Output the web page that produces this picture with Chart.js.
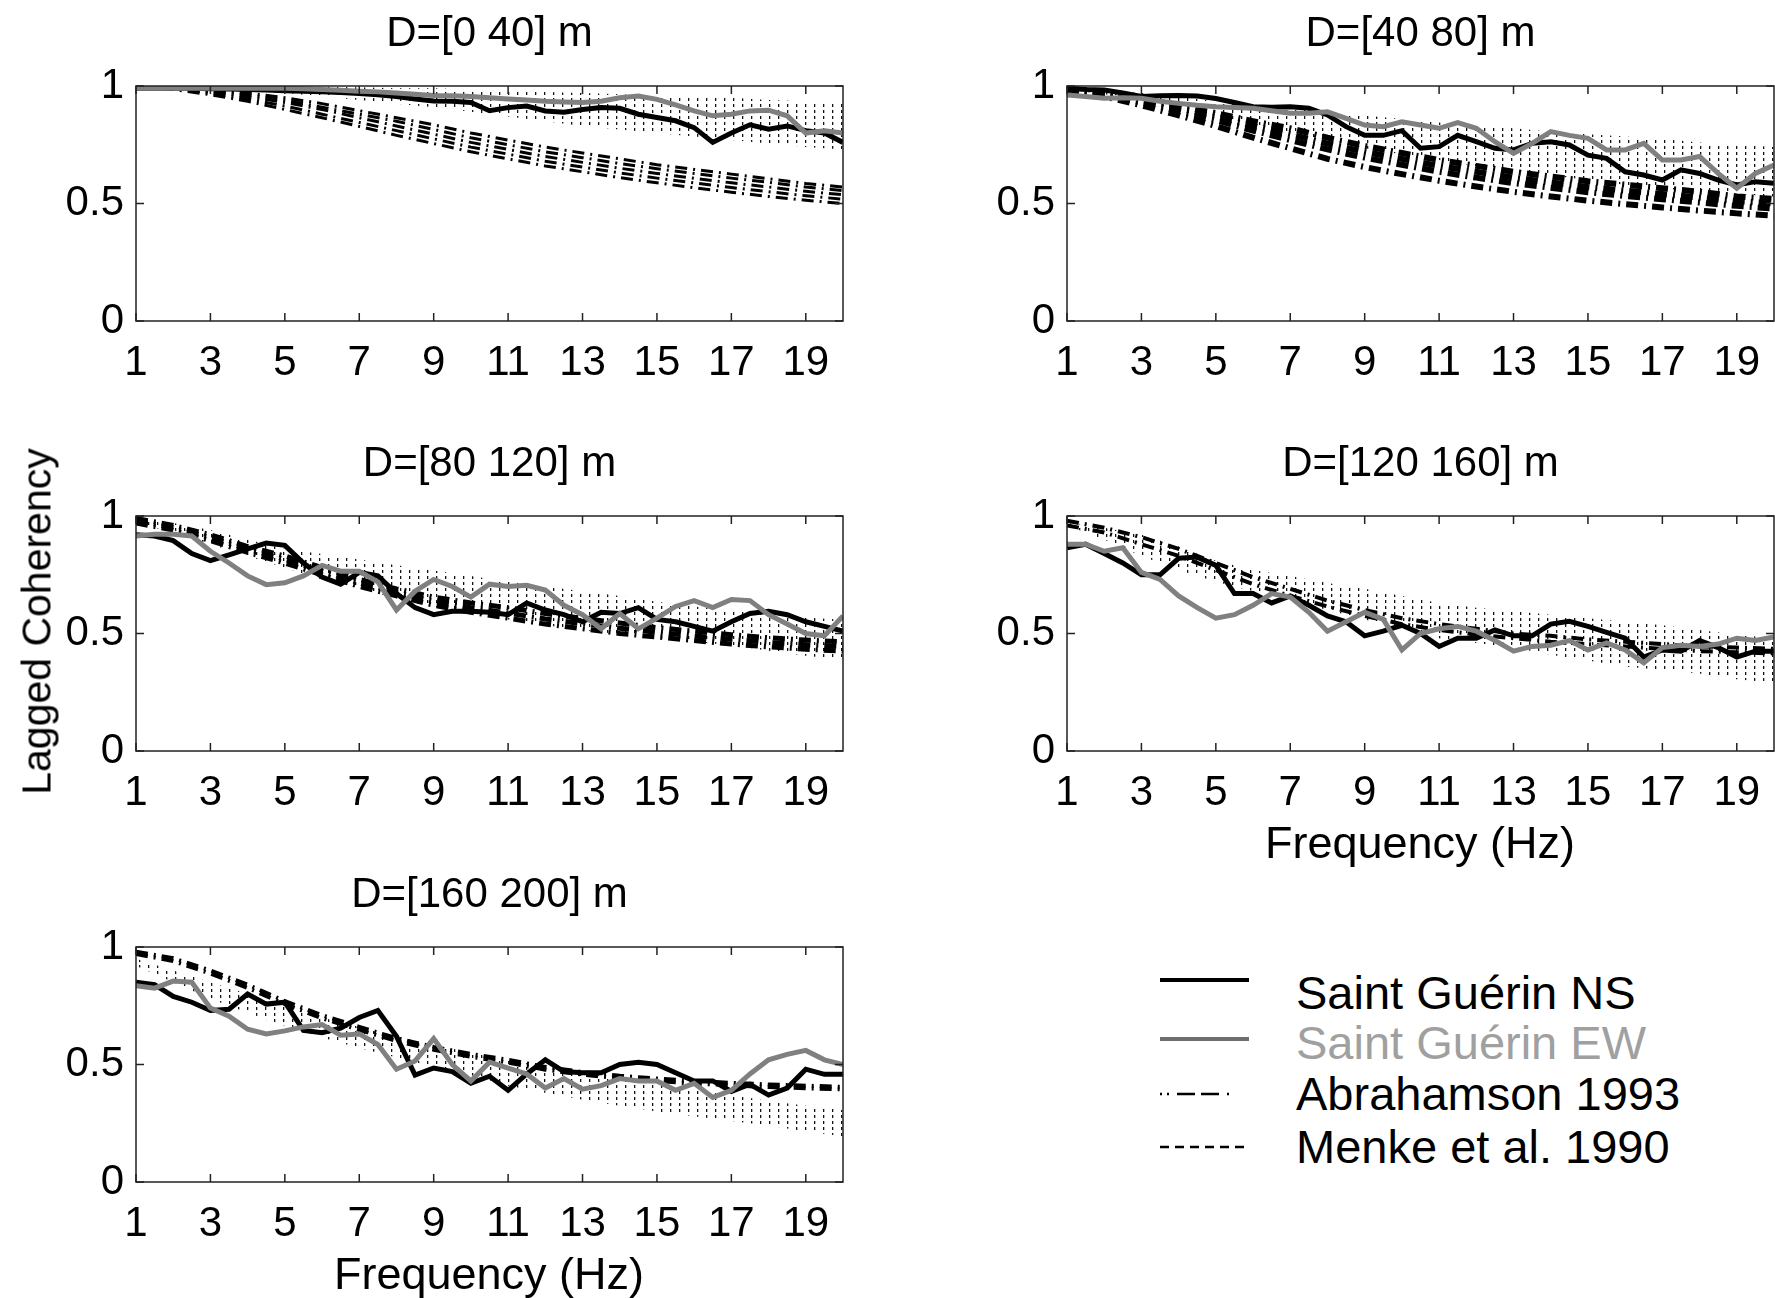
<!DOCTYPE html>
<html>
<head>
<meta charset="utf-8">
<script src="https://cdn.jsdelivr.net/npm/chart.js@4.4.1/dist/chart.umd.min.js"></script>
<style>
  html, body { margin: 0; padding: 0; background: #fff; overflow: hidden; }
  #page { position: relative; width: 1775px; height: 1298px; overflow: hidden; background: #fff; }
  #page canvas { position: absolute; }
  .lbl { position: absolute; width: 700px; text-align: center; font-family: "Liberation Sans", Arial, sans-serif; color: #000; white-space: nowrap; }
  .leg { position: absolute; left: 1160px; font-family: "Liberation Sans", Arial, sans-serif; font-size: 47px; line-height: 47px; white-space: nowrap; }
  .leg svg { position: absolute; left: 0; }
  .leg span { position: absolute; left: 136px; }
</style>
</head>
<body>
<div id="page">
  <canvas id="c1"></canvas>
  <canvas id="c2"></canvas>
  <canvas id="c3"></canvas>
  <canvas id="c4"></canvas>
  <canvas id="c5"></canvas>

  <div class="lbl" style="left:-313px; top:601px; font-size:41px; line-height:41px; transform:rotate(-90deg);">Lagged Coherency</div>
  <div class="lbl" style="left:1070px; top:820px; font-size:45px; line-height:45px;">Frequency (Hz)</div>
  <div class="lbl" style="left:139px; top:1251px; font-size:45px; line-height:45px;">Frequency (Hz)</div>

  <div class="leg" style="top:969px;"><svg width="100" height="47"><line x1="0" y1="11" x2="89" y2="11" stroke="#000" stroke-width="4"/></svg><span style="color:#000">Saint Guérin NS</span></div>
  <div class="leg" style="top:1019px;"><svg width="100" height="47"><line x1="0" y1="20" x2="89" y2="20" stroke="#6e6e6e" stroke-width="4"/></svg><span style="color:#a0a0a0">Saint Guérin EW</span></div>
  <div class="leg" style="top:1070px;"><svg width="100" height="47"><line x1="0" y1="24" x2="89" y2="24" stroke="#000" stroke-width="2.5" stroke-dasharray="2 5 2 8 18 6 18 8 2 20"/></svg><span style="color:#000">Abrahamson 1993</span></div>
  <div class="leg" style="top:1123px;"><svg width="100" height="47"><line x1="0" y1="24" x2="89" y2="24" stroke="#000" stroke-width="2.5" stroke-dasharray="9 6"/></svg><span style="color:#000">Menke et al. 1990</span></div>
</div>

<script>
// frequency axis of the measured curves (0.5 Hz) and of the model curves (1 Hz)
const freq = [1, 1.5, 2, 2.5, 3, 3.5, 4, 4.5, 5, 5.5, 6, 6.5, 7, 7.5, 8, 8.5, 9, 9.5, 10, 10.5,
              11, 11.5, 12, 12.5, 13, 13.5, 14, 14.5, 15, 15.5, 16, 16.5, 17, 17.5, 18, 18.5, 19, 19.5, 20];
const modelFreq = [1, 2, 3, 4, 5, 6, 7, 8, 9, 10, 11, 12, 13, 14, 15, 16, 17, 18, 19, 20];

const xTicks = [1, 3, 5, 7, 9, 11, 13, 15, 17, 19];
const yTicks = [0, 0.5, 1];
const yTickLabels = ['0', '0.5', '1'];

const panelTitles = ['D=[0 40] m', 'D=[40 80] m', 'D=[80 120] m', 'D=[120 160] m', 'D=[160 200] m'];

// Saint Guérin NS
const ns040 = [0.99, 0.99, 0.99, 0.99, 0.988, 0.987, 0.985, 0.983, 0.98, 0.978, 0.975, 0.972, 0.968, 0.963, 0.955, 0.945, 0.936, 0.935, 0.93, 0.895,
               0.908, 0.915, 0.894, 0.888, 0.90, 0.908, 0.905, 0.88, 0.866, 0.852, 0.823, 0.76, 0.80, 0.835, 0.816, 0.83, 0.81, 0.80, 0.76];
const ns4080 = [0.99, 0.985, 0.983, 0.97, 0.955, 0.958, 0.96, 0.957, 0.947, 0.93, 0.912, 0.91, 0.912, 0.905, 0.877, 0.827, 0.79, 0.79, 0.81, 0.735,
                0.742, 0.79, 0.763, 0.735, 0.728, 0.756, 0.763, 0.749, 0.706, 0.692, 0.635, 0.621, 0.60, 0.643, 0.628, 0.60, 0.579, 0.593, 0.586];
const ns80120 = [0.92, 0.915, 0.895, 0.84, 0.81, 0.835, 0.86, 0.885, 0.875, 0.80, 0.74, 0.71, 0.76, 0.745, 0.67, 0.61, 0.58, 0.595, 0.595, 0.59,
                 0.58, 0.63, 0.60, 0.58, 0.55, 0.59, 0.585, 0.61, 0.56, 0.55, 0.53, 0.51, 0.55, 0.585, 0.595, 0.58, 0.55, 0.53, 0.51];
const ns120160 = [0.865, 0.88, 0.84, 0.80, 0.75, 0.75, 0.82, 0.825, 0.79, 0.67, 0.67, 0.63, 0.66, 0.62, 0.575, 0.55, 0.49, 0.51, 0.535, 0.50,
                  0.445, 0.48, 0.48, 0.515, 0.49, 0.49, 0.54, 0.552, 0.53, 0.505, 0.48, 0.40, 0.43, 0.425, 0.47, 0.44, 0.40, 0.425, 0.425];
const ns160200 = [0.85, 0.84, 0.79, 0.765, 0.73, 0.735, 0.80, 0.757, 0.765, 0.645, 0.635, 0.655, 0.70, 0.73, 0.62, 0.455, 0.485, 0.47, 0.42, 0.45,
                  0.39, 0.46, 0.52, 0.47, 0.465, 0.465, 0.50, 0.51, 0.50, 0.465, 0.43, 0.43, 0.385, 0.416, 0.37, 0.40, 0.48, 0.458, 0.458];

// Saint Guérin EW
const ew040 = [0.99, 0.99, 0.99, 0.99, 0.99, 0.99, 0.99, 0.99, 0.99, 0.988, 0.985, 0.982, 0.978, 0.975, 0.97, 0.965, 0.96, 0.958, 0.955, 0.95,
               0.945, 0.94, 0.935, 0.932, 0.93, 0.935, 0.95, 0.957, 0.943, 0.92, 0.894, 0.873, 0.88, 0.894, 0.897, 0.873, 0.80, 0.81, 0.80];
const ew4080 = [0.962, 0.955, 0.948, 0.95, 0.948, 0.935, 0.926, 0.918, 0.912, 0.908, 0.905, 0.895, 0.884, 0.884, 0.89, 0.862, 0.834, 0.827, 0.848, 0.834,
                0.82, 0.844, 0.82, 0.763, 0.713, 0.756, 0.806, 0.79, 0.777, 0.728, 0.728, 0.756, 0.685, 0.685, 0.70, 0.628, 0.565, 0.628, 0.664];
const ew80120 = [0.915, 0.922, 0.922, 0.915, 0.85, 0.80, 0.745, 0.708, 0.716, 0.745, 0.79, 0.765, 0.765, 0.72, 0.60, 0.68, 0.73, 0.70, 0.655, 0.71,
                 0.70, 0.705, 0.685, 0.62, 0.58, 0.52, 0.585, 0.52, 0.565, 0.615, 0.64, 0.61, 0.645, 0.64, 0.58, 0.54, 0.50, 0.49, 0.575];
const ew120160 = [0.88, 0.88, 0.85, 0.865, 0.76, 0.73, 0.66, 0.61, 0.565, 0.58, 0.62, 0.67, 0.655, 0.59, 0.51, 0.55, 0.59, 0.56, 0.43, 0.50,
                  0.52, 0.53, 0.51, 0.47, 0.425, 0.445, 0.45, 0.47, 0.43, 0.46, 0.43, 0.375, 0.44, 0.45, 0.445, 0.455, 0.48, 0.47, 0.485];
const ew160200 = [0.835, 0.825, 0.855, 0.85, 0.74, 0.706, 0.65, 0.63, 0.643, 0.66, 0.67, 0.625, 0.63, 0.585, 0.48, 0.515, 0.61, 0.50, 0.43, 0.51,
                  0.485, 0.46, 0.40, 0.44, 0.395, 0.41, 0.44, 0.43, 0.43, 0.39, 0.42, 0.36, 0.39, 0.46, 0.52, 0.543, 0.56, 0.52, 0.50];

// Abrahamson 1993 (several distances inside each bin)
const abr040 = [
  [1.0, 0.995, 0.985, 0.97, 0.95, 0.925, 0.895, 0.865, 0.835, 0.80, 0.77, 0.74, 0.715, 0.69, 0.665, 0.645, 0.625, 0.605, 0.585, 0.57],
  [1.0, 0.993, 0.98, 0.963, 0.94, 0.91, 0.88, 0.85, 0.815, 0.78, 0.75, 0.72, 0.695, 0.67, 0.648, 0.628, 0.608, 0.59, 0.57, 0.555],
  [1.0, 0.99, 0.975, 0.955, 0.93, 0.90, 0.865, 0.83, 0.795, 0.76, 0.73, 0.70, 0.675, 0.65, 0.628, 0.607, 0.588, 0.57, 0.552, 0.537],
  [1.0, 0.988, 0.97, 0.945, 0.915, 0.88, 0.845, 0.81, 0.775, 0.74, 0.71, 0.68, 0.655, 0.63, 0.608, 0.588, 0.568, 0.55, 0.533, 0.518],
  [1.0, 0.985, 0.963, 0.935, 0.90, 0.865, 0.828, 0.79, 0.755, 0.72, 0.69, 0.66, 0.635, 0.61, 0.588, 0.567, 0.548, 0.53, 0.514, 0.50]
];
const abr4080 = [
  [0.99, 0.975, 0.95, 0.915, 0.885, 0.85, 0.82, 0.78, 0.745, 0.715, 0.685, 0.66, 0.635, 0.615, 0.595, 0.58, 0.565, 0.55, 0.53, 0.52],
  [0.988, 0.968, 0.94, 0.905, 0.87, 0.83, 0.795, 0.755, 0.72, 0.69, 0.66, 0.635, 0.61, 0.59, 0.57, 0.555, 0.54, 0.525, 0.51, 0.50],
  [0.985, 0.962, 0.93, 0.893, 0.855, 0.81, 0.77, 0.73, 0.695, 0.665, 0.635, 0.61, 0.587, 0.567, 0.548, 0.532, 0.518, 0.504, 0.49, 0.478],
  [0.983, 0.955, 0.918, 0.875, 0.83, 0.78, 0.735, 0.69, 0.655, 0.625, 0.597, 0.572, 0.55, 0.53, 0.512, 0.497, 0.483, 0.47, 0.458, 0.448]
];
const abr80120 = [
  [0.99, 0.96, 0.92, 0.87, 0.83, 0.78, 0.73, 0.69, 0.655, 0.63, 0.61, 0.585, 0.565, 0.545, 0.525, 0.51, 0.495, 0.482, 0.472, 0.465],
  [0.98, 0.95, 0.908, 0.858, 0.815, 0.765, 0.715, 0.675, 0.637, 0.61, 0.587, 0.562, 0.542, 0.522, 0.505, 0.49, 0.475, 0.462, 0.452, 0.445],
  [0.97, 0.94, 0.895, 0.845, 0.80, 0.75, 0.70, 0.66, 0.62, 0.59, 0.565, 0.54, 0.52, 0.50, 0.485, 0.47, 0.455, 0.443, 0.433, 0.425]
];
const abr120160 = [
  [0.98, 0.95, 0.91, 0.86, 0.80, 0.74, 0.69, 0.64, 0.60, 0.565, 0.54, 0.52, 0.50, 0.49, 0.475, 0.465, 0.455, 0.445, 0.44, 0.435],
  [0.96, 0.93, 0.88, 0.83, 0.77, 0.71, 0.66, 0.615, 0.575, 0.54, 0.515, 0.495, 0.48, 0.465, 0.455, 0.445, 0.435, 0.425, 0.42, 0.415]
];
const abr160200 = [
  [0.98, 0.952, 0.90, 0.84, 0.77, 0.71, 0.66, 0.612, 0.575, 0.545, 0.52, 0.49, 0.468, 0.452, 0.44, 0.43, 0.422, 0.415, 0.41, 0.405],
  [0.97, 0.94, 0.887, 0.826, 0.757, 0.697, 0.647, 0.6, 0.563, 0.533, 0.508, 0.478, 0.457, 0.441, 0.429, 0.419, 0.411, 0.404, 0.399, 0.394]
];

// Menke et al. 1990 band (upper and lower curve of each bin)
const menke040Hi = [1.0, 1.0, 1.0, 1.0, 0.998, 0.997, 0.995, 0.99, 0.99, 0.985, 0.98, 0.975, 0.97, 0.965, 0.96, 0.955, 0.95, 0.94, 0.935, 0.93];
const menke040Lo = [1.0, 0.998, 0.99, 0.98, 0.97, 0.955, 0.94, 0.925, 0.91, 0.89, 0.87, 0.85, 0.83, 0.815, 0.80, 0.785, 0.77, 0.755, 0.74, 0.73];
const menke4080Hi = [0.99, 0.985, 0.97, 0.955, 0.935, 0.92, 0.905, 0.89, 0.875, 0.86, 0.845, 0.83, 0.82, 0.805, 0.795, 0.785, 0.775, 0.76, 0.75, 0.74];
const menke4080Lo = [0.985, 0.965, 0.94, 0.91, 0.875, 0.84, 0.80, 0.765, 0.735, 0.71, 0.685, 0.66, 0.64, 0.62, 0.60, 0.58, 0.565, 0.55, 0.54, 0.53];
const menke80120Hi = [0.99, 0.97, 0.94, 0.90, 0.86, 0.838, 0.815, 0.79, 0.768, 0.745, 0.72, 0.70, 0.68, 0.66, 0.635, 0.615, 0.597, 0.582, 0.568, 0.558];
const menke80120Lo = [0.97, 0.93, 0.88, 0.83, 0.78, 0.73, 0.69, 0.65, 0.615, 0.585, 0.56, 0.535, 0.515, 0.497, 0.48, 0.465, 0.45, 0.427, 0.405, 0.388];
const menke120160Hi = [0.97, 0.95, 0.92, 0.87, 0.81, 0.77, 0.745, 0.715, 0.69, 0.66, 0.63, 0.61, 0.595, 0.58, 0.565, 0.55, 0.535, 0.515, 0.495, 0.48];
const menke120160Lo = [0.96, 0.90, 0.83, 0.77, 0.72, 0.68, 0.64, 0.60, 0.56, 0.52, 0.48, 0.46, 0.44, 0.41, 0.385, 0.36, 0.345, 0.33, 0.305, 0.29];
const menke160200Hi = [0.95, 0.90, 0.85, 0.80, 0.75, 0.70, 0.66, 0.62, 0.585, 0.55, 0.52, 0.49, 0.465, 0.44, 0.415, 0.39, 0.37, 0.345, 0.325, 0.305];
const menke160200Lo = [0.92, 0.85, 0.78, 0.72, 0.665, 0.615, 0.57, 0.53, 0.49, 0.455, 0.41, 0.38, 0.35, 0.325, 0.30, 0.28, 0.26, 0.24, 0.215, 0.195];

const tickFont = { family: '"Liberation Sans", Arial, sans-serif', size: 42, lineHeight: 1.2 };
const titleFont = { family: '"Liberation Sans", Arial, sans-serif', size: 42, weight: 'normal', lineHeight: 1.2 };

// hatch used for the Menke band (columns of short vertical dashes)
function makeHatch() {
  var c = document.createElement('canvas');
  c.width = 9; c.height = 6;
  var g = c.getContext('2d');
  g.fillStyle = '#111';
  g.fillRect(4, 0, 1.3, 3);
  return g.createPattern(c, 'repeat');
}

function pts(xs, ys) {
  return xs.map(function(x, i) { return { x: x, y: ys[i] }; });
}

// box + inward ticks on all four sides, like the matlab axes
const framePlugin = {
  id: 'frame',
  afterDraw: function(chart) {
    var ctx = chart.ctx, a = chart.chartArea, xs = chart.scales.x, ys = chart.scales.y;
    ctx.save();
    ctx.strokeStyle = '#222';
    ctx.lineWidth = 1.5;
    ctx.strokeRect(a.left, a.top, a.right - a.left, a.bottom - a.top);
    ctx.beginPath();
    xTicks.forEach(function(v) {
      var px = xs.getPixelForValue(v);
      ctx.moveTo(px, a.bottom); ctx.lineTo(px, a.bottom - 8);
      ctx.moveTo(px, a.top); ctx.lineTo(px, a.top + 8);
    });
    yTicks.forEach(function(v) {
      var py = ys.getPixelForValue(v);
      ctx.moveTo(a.left, py); ctx.lineTo(a.left + 8, py);
      ctx.moveTo(a.right, py); ctx.lineTo(a.right - 8, py);
    });
    ctx.stroke();
    ctx.restore();
  }
};

const panels = [
  { id: 'c1', title: panelTitles[0], ns: ns040, ew: ew040, abr: abr040, abrWidth: 3, hi: menke040Hi, lo: menke040Lo, left: 136, top: 86 },
  { id: 'c2', title: panelTitles[1], ns: ns4080, ew: ew4080, abr: abr4080, abrWidth: 6, hi: menke4080Hi, lo: menke4080Lo, left: 1067, top: 86 },
  { id: 'c3', title: panelTitles[2], ns: ns80120, ew: ew80120, abr: abr80120, abrWidth: 5, hi: menke80120Hi, lo: menke80120Lo, left: 136, top: 516 },
  { id: 'c4', title: panelTitles[3], ns: ns120160, ew: ew120160, abr: abr120160, abrWidth: 4, hi: menke120160Hi, lo: menke120160Lo, left: 1067, top: 516 },
  { id: 'c5', title: panelTitles[4], ns: ns160200, ew: ew160200, abr: abr160200, abrWidth: 4, hi: menke160200Hi, lo: menke160200Lo, left: 136, top: 947 }
];

const SIDE = 100, TOP = 90, BOTTOM = 70, PLOT_W = 707, PLOT_H = 235;
const hatch = makeHatch();

panels.forEach(function(p) {
  var cv = document.getElementById(p.id);
  cv.width = SIDE + PLOT_W + SIDE;
  cv.height = TOP + PLOT_H + BOTTOM;
  cv.style.left = (p.left - SIDE) + 'px';
  cv.style.top = (p.top - TOP) + 'px';

  var datasets = [
    { data: pts(freq, p.ew), borderColor: '#808080', borderWidth: 5, order: 0 },
    { data: pts(freq, p.ns), borderColor: '#000', borderWidth: 5, order: 1 }
  ];
  p.abr.forEach(function(a) {
    datasets.push({ data: pts(modelFreq, a), borderColor: '#000', borderWidth: p.abrWidth, borderDash: [12, 6, 2, 6], order: 2 });
  });
  datasets.push({ data: pts(modelFreq, p.hi), borderColor: 'rgba(0,0,0,0)', fill: false, order: 3 });
  datasets.push({ data: pts(modelFreq, p.lo), borderColor: 'rgba(0,0,0,0)', fill: '-1', backgroundColor: hatch, order: 3 });

  new Chart(cv.getContext('2d'), {
    type: 'line',
    data: { datasets: datasets },
    options: {
      responsive: false,
      animation: false,
      devicePixelRatio: 1,
      layout: { padding: 0, autoPadding: false },
      elements: { point: { radius: 0 }, line: { tension: 0, borderCapStyle: 'butt' } },
      plugins: {
        legend: { display: false },
        tooltip: { enabled: false },
        title: { display: true, text: p.title, color: '#000', font: titleFont, padding: { top: 12.8, bottom: 26.8 } }
      },
      scales: {
        x: {
          type: 'linear', min: 1, max: 20,
          afterBuildTicks: function(s) { s.ticks = xTicks.map(function(v) { return { value: v }; }); },
          afterFit: function(s) { s.height = BOTTOM; },
          ticks: { color: '#000', font: tickFont, padding: 17, maxRotation: 0, autoSkip: false, callback: function(v) { return String(v); } },
          grid: { display: false, drawTicks: false },
          border: { display: false }
        },
        y: {
          min: 0, max: 1,
          afterBuildTicks: function(s) { s.ticks = yTicks.map(function(v) { return { value: v }; }); },
          afterFit: function(s) { s.width = SIDE; },
          ticks: { color: '#000', font: tickFont, padding: 12, callback: function(v) { return yTickLabels[yTicks.indexOf(v)]; } },
          grid: { display: false, drawTicks: false },
          border: { display: false }
        },
        y2: {
          position: 'right', min: 0, max: 1,
          afterFit: function(s) { s.width = SIDE; },
          ticks: { display: false },
          grid: { display: false, drawTicks: false },
          border: { display: false }
        }
      }
    },
    plugins: [framePlugin]
  });
});
</script>
</body>
</html>
